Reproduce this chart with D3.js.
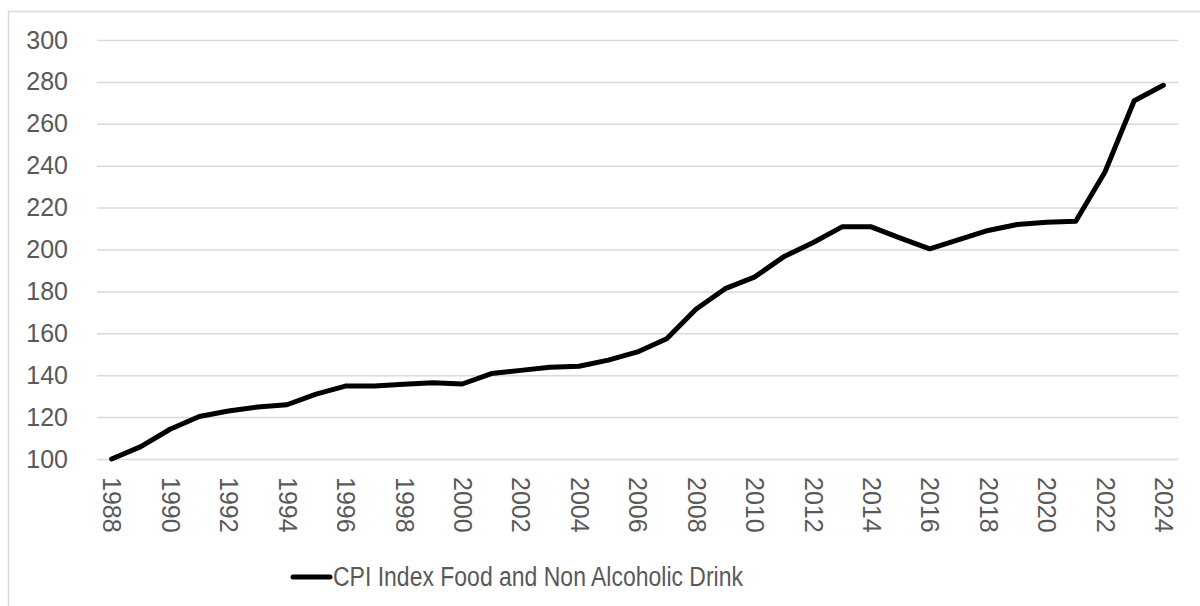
<!DOCTYPE html>
<html>
<head>
<meta charset="utf-8">
<script src="https://cdn.jsdelivr.net/npm/d3@7"></script>
<style>
  body { margin: 0; background: #fff; }
  text { font-family: "Liberation Sans", Arial, sans-serif; fill: #595959; }
</style>
</head>
<body>
<div id="chart"></div>
<script>
const years = d3.range(1988, 2025).map(String)
const cpi = [
    100.0, 105.9, 114.2, 120.3, 122.9, 124.8, 125.9, 131.0, 134.8, 134.8,
    135.7, 136.4, 135.8, 140.8, 142.3, 143.8, 144.3, 147.2, 151.1, 157.4,
    171.5, 181.3, 186.8, 196.5, 203.2, 210.8, 210.8, 205.4, 200.3, 204.7,
    209.1, 211.9, 213.0, 213.5, 237.0, 271.0, 278.4
]
const yTicks = [100, 120, 140, 160, 180, 200, 220, 240, 260, 280, 300]
const xTickLabels = years.filter((d, i) => i % 2 === 0)
const seriesName = "CPI Index Food and Non Alcoholic Drink"

const svgWidth = 1200, svgHeight = 606
const margin = { top: 40, right: 22, bottom: 147, left: 97 }
const width = svgWidth - margin.left - margin.right
const height = svgHeight - margin.top - margin.bottom

const svg = d3.select("#chart")
    .append("svg")
    .attr("width", svgWidth)
    .attr("height", svgHeight)

// chart area border (runs off the right and bottom edge)
svg.append("rect")
    .attr("x", 8.5)
    .attr("y", 11.5)
    .attr("width", 1200)
    .attr("height", 620)
    .attr("fill", "none")
    .attr("stroke", "#d9d9d9")
    .attr("stroke-width", 1.5)

const chartGroup = svg.append("g")
    .attr("transform", `translate(${margin.left}, ${margin.top})`)

const xScale = d3.scalePoint()
    .domain(years)
    .range([0, width])
    .padding(0.5)

const yScale = d3.scaleLinear()
    .domain([100, 300])
    .range([height, 0])

// gridlines + y labels
const yAxis = d3.axisLeft(yScale)
    .tickValues(yTicks)
    .tickSize(-width)
    .tickPadding(29)

const yAxisG = chartGroup.append("g").call(yAxis)
yAxisG.select(".domain").remove()
yAxisG.selectAll(".tick line").attr("stroke", "#d9d9d9").attr("stroke-width", 1.5)
yAxisG.selectAll(".tick text")
    .attr("font-size", 25)
    .attr("fill", "#595959")

// x labels, rotated
const xAxis = d3.axisBottom(xScale)
    .tickValues(xTickLabels)
    .tickSize(0)

const xAxisG = chartGroup.append("g")
    .attr("transform", `translate(0, ${height})`)
    .call(xAxis)
xAxisG.select(".domain").remove()
xAxisG.selectAll(".tick text")
    .attr("font-size", 25)
    .attr("fill", "#595959")
    .attr("transform", "rotate(90)")
    .attr("text-anchor", "start")
    .attr("x", 18)
    .attr("y", 0)
    .attr("dy", "0.35em")

// line
const line = d3.line()
    .x((d, i) => xScale(years[i]))
    .y(d => yScale(d))

chartGroup.append("path")
    .datum(cpi)
    .attr("fill", "none")
    .attr("stroke", "#000")
    .attr("stroke-width", 5)
    .attr("stroke-linejoin", "round")
    .attr("stroke-linecap", "round")
    .attr("d", line)

// legend
const legend = svg.append("g")
    .attr("transform", "translate(293, 577)")

legend.append("line")
    .attr("x1", 0).attr("x2", 37)
    .attr("y1", 0).attr("y2", 0)
    .attr("stroke", "#000")
    .attr("stroke-width", 5)
    .attr("stroke-linecap", "round")

legend.append("text")
    .attr("x", 40)
    .attr("y", 0)
    .attr("dy", "0.35em")
    .attr("font-size", 27)
    .attr("textLength", 410)
    .attr("lengthAdjust", "spacingAndGlyphs")
    .text(seriesName)
</script>
</body>
</html>
